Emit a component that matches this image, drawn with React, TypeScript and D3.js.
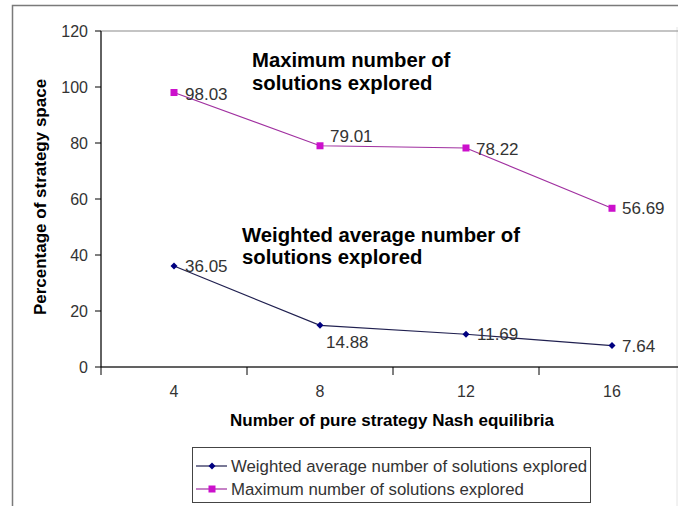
import React from "react";
import * as d3 from "d3";

// Number of pure-strategy Nash equilibria (x categories)
const categories = ["4", "8", "12", "16"];
// Percentage of strategy space explored
const weightedAvg = [36.05, 14.88, 11.69, 7.64];
const maximum = [98.03, 79.01, 78.22, 56.69];
const yTicks = [0, 20, 40, 60, 80, 100, 120];

const seriesNames = [
  "Weighted average number of solutions explored",
  "Maximum number of solutions explored",
];

const W = 678;
const H = 506;
const FONT = "'Liberation Sans', Arial, sans-serif";

export default function App() {
  const x = d3.scaleBand<string>().domain(categories).range([101, 685]).padding(0);
  const y = d3.scaleLinear().domain([0, 120]).range([367, 31]);
  const cx = (c: string) => (x(c) as number) + x.bandwidth() / 2;

  const line = d3
    .line<number>()
    .x((_, i) => cx(categories[i]))
    .y((v) => y(v));

  const navy = "#000080";
  const magenta = "#CC10CC";
  const navyLine = "#202050";
  const magentaLine = "#A030A0";

  // label placement per point: [dx, dy] from the marker to the text baseline
  const weightedOffsets = [
    [11, 6],
    [6, 23],
    [11, 6],
    [10, 6],
  ];
  const maxOffsets = [
    [11, 7],
    [10, -4],
    [10, 7],
    [10, 6],
  ];

  const diamond = (px: number, py: number, r: number) =>
    `M${px},${py - r}L${px + r},${py}L${px},${py + r}L${px - r},${py}Z`;

  const bands = [...categories.map((c) => x(c) as number), x.range()[1]];

  return (
    <div style={{ position: "fixed", left: 0, top: 0, width: W, height: H, background: "#fff" }}>
      <svg width={W} height={H} style={{ display: "block", fontFamily: FONT }}>
        <rect x={0} y={0} width={W} height={H} fill="#fff" />
        {/* chart area border */}
        <rect x={12.5} y={5.5} width={700} height={520} fill="none" stroke="#7a7a7a" strokeWidth={1.5} />
        <line x1={677} x2={677} y1={27} y2={H} stroke="#e4e4e4" strokeWidth={1} />
        {/* plot area border */}
        <rect x={101} y={31} width={600} height={336} fill="none" stroke="#8a8a8a" strokeWidth={1} />

        {/* y axis */}
        <line x1={101} x2={101} y1={31} y2={367} stroke="#000" strokeWidth={1} />
        {yTicks.map((t) => (
          <g key={t}>
            <line x1={95} x2={101} y1={y(t)} y2={y(t)} stroke="#000" />
            <text x={88} y={y(t)} dy="0.35em" textAnchor="end" fontSize={16} fill="#333">
              {t}
            </text>
          </g>
        ))}

        {/* x axis */}
        <line x1={101} x2={W} y1={367} y2={367} stroke="#000" strokeWidth={1} />
        {bands.map((b, i) => (
          <line key={i} x1={b} x2={b} y1={367} y2={375} stroke="#000" />
        ))}
        {categories.map((c) => (
          <text key={c} x={cx(c)} y={397} textAnchor="middle" fontSize={16} fill="#333">
            {c}
          </text>
        ))}

        {/* axis titles */}
        <text x={392} y={426} textAnchor="middle" fontSize={17} fontWeight="bold" fill="#000">
          Number of pure strategy Nash equilibria
        </text>
        <text
          transform="translate(46,197) rotate(-90)"
          textAnchor="middle"
          fontSize={17}
          fontWeight="bold"
          fill="#000"
        >
          Percentage of strategy space
        </text>

        {/* series lines */}
        <path d={line(maximum) || ""} fill="none" stroke={magentaLine} strokeWidth={1.2} />
        <path d={line(weightedAvg) || ""} fill="none" stroke={navyLine} strokeWidth={1.2} />

        {/* markers */}
        {maximum.map((v, i) => (
          <rect key={i} x={cx(categories[i]) - 3.5} y={y(v) - 3.5} width={7} height={7} fill={magenta} />
        ))}
        {weightedAvg.map((v, i) => (
          <path key={i} d={diamond(cx(categories[i]), y(v), 3.5)} fill={navy} />
        ))}

        {/* data labels */}
        {maximum.map((v, i) => (
          <text
            key={i}
            x={cx(categories[i]) + maxOffsets[i][0]}
            y={y(v) + maxOffsets[i][1]}
            fontSize={17}
            fill="#333"
          >
            {v.toFixed(2)}
          </text>
        ))}
        {weightedAvg.map((v, i) => (
          <text
            key={i}
            x={cx(categories[i]) + weightedOffsets[i][0]}
            y={y(v) + weightedOffsets[i][1]}
            fontSize={17}
            fill="#333"
          >
            {v.toFixed(2)}
          </text>
        ))}

        {/* series annotations */}
        <text x={252} y={67} fontSize={20.3} fontWeight="bold" fill="#000">
          <tspan x={252}>Maximum number of</tspan>
          <tspan x={252} dy={23}>solutions explored</tspan>
        </text>
        <text x={242} y={242} fontSize={20.3} fontWeight="bold" fill="#000">
          <tspan x={242}>Weighted average number of</tspan>
          <tspan x={242} dy={22}>solutions explored</tspan>
        </text>

        {/* legend */}
        <rect x={192.5} y={447.5} width={398} height={55} fill="#fff" stroke="#444" strokeWidth={1} />
        {seriesNames.map((name, i) => {
          const ly = 466 + i * 23;
          return (
            <g key={name}>
              <line x1={196} x2={227} y1={ly} y2={ly} stroke={i === 0 ? navyLine : magentaLine} strokeWidth={1.2} />
              {i === 0 ? (
                <path d={diamond(212, ly, 3.5)} fill={navy} />
              ) : (
                <rect x={208.5} y={ly - 3.5} width={7} height={7} fill={magenta} />
              )}
              <text x={231} y={ly} dy="0.35em" fontSize={16.8} fill="#333">
                {name}
              </text>
            </g>
          );
        })}
      </svg>
    </div>
  );
}
